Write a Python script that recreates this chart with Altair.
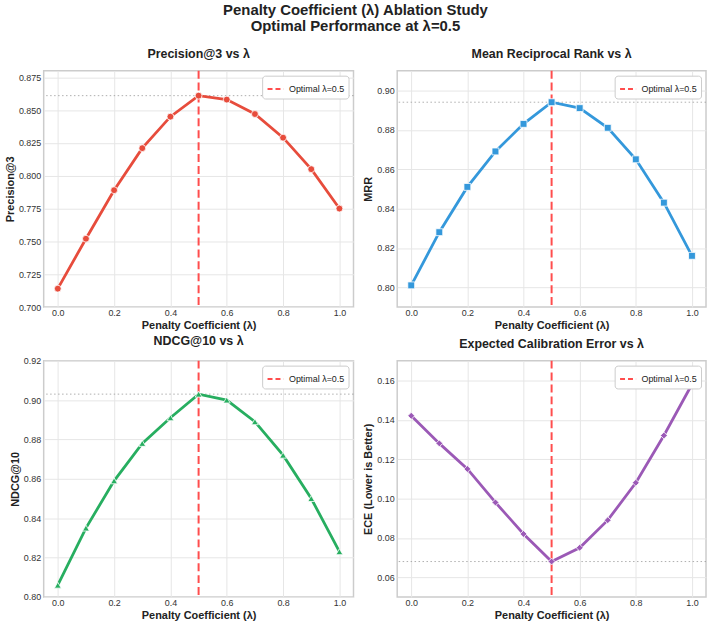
import altair as alt
import pandas as pd

FONT = "Liberation Sans"

# ---------------- data ----------------
lam = [0.0, 0.1, 0.2, 0.3, 0.4, 0.5, 0.6, 0.7, 0.8, 0.9, 1.0]
precision3 = [0.714, 0.752, 0.789, 0.821, 0.845, 0.861, 0.858, 0.847, 0.829, 0.805, 0.775]
mrr = [0.801, 0.828, 0.851, 0.869, 0.883, 0.894, 0.891, 0.881, 0.865, 0.843, 0.816]
ndcg10 = [0.806, 0.835, 0.859, 0.878, 0.891, 0.903, 0.900, 0.889, 0.872, 0.850, 0.823]
ece = [0.142, 0.128, 0.115, 0.098, 0.082, 0.068, 0.075, 0.089, 0.108, 0.132, 0.158]

opt_lambda = 0.5
legend_label = "Optimal λ=0.5"

x_ticks = [0.0, 0.2, 0.4, 0.6, 0.8, 1.0]
p3_ticks = [0.700, 0.725, 0.750, 0.775, 0.800, 0.825, 0.850, 0.875]
mrr_ticks = [0.80, 0.82, 0.84, 0.86, 0.88, 0.90]
ndcg_ticks = [0.80, 0.82, 0.84, 0.86, 0.88, 0.90, 0.92]
ece_ticks = [0.06, 0.08, 0.10, 0.12, 0.14, 0.16]

main_title = ["Penalty Coefficient (λ) Ablation Study", "Optimal Performance at λ=0.5"]
x_title = "Penalty Coefficient (λ)"


def panel(values, title, ytitle, color, shape, ydomain, yticks, yfmt, opt_value, w, h):
    df = pd.DataFrame({"lam": lam, "val": values})
    xenc = alt.X(
        "lam:Q",
        scale=alt.Scale(domain=[-0.05, 1.05], nice=False, zero=False),
        axis=alt.Axis(values=x_ticks, tickCount=len(x_ticks) + 10, format=".1f",
                      title=x_title, labelFlush=False, labelOverlap=False),
    )
    yenc = alt.Y(
        "val:Q",
        scale=alt.Scale(domain=ydomain, nice=False, zero=False),
        axis=alt.Axis(values=yticks, tickCount=len(yticks) + 10, format=yfmt,
                      title=ytitle, labelFlush=False, labelOverlap=False),
    )
    hline = (
        alt.Chart(pd.DataFrame({"val": [opt_value]}))
        .mark_rule(color="#9a9a9a", strokeDash=[1.5, 2.5], strokeWidth=1, opacity=0.8)
        .encode(y=alt.Y("val:Q"))
    )
    vline = (
        alt.Chart(pd.DataFrame({"lam": [opt_lambda], "label": [legend_label]}))
        .mark_rule(strokeDash=[8, 4], strokeWidth=2)
        .encode(
            x=alt.X("lam:Q"),
            color=alt.Color(
                "label:N",
                scale=alt.Scale(range=["#ff4d4d"]),
                legend=alt.Legend(
                    title=None,
                    orient="top-right",
                    offset=5,
                    symbolType="stroke",
                    symbolStrokeWidth=2,
                    symbolDash=[5, 3],
                    symbolSize=260,
                    labelFontSize=9,
                    labelFont=FONT,
                    labelColor="#222",
                    fillColor="white",
                    strokeColor="#cccccc",
                    cornerRadius=3,
                    padding=4,
                ),
            ),
        )
    )
    line = (
        alt.Chart(df)
        .mark_line(color=color, strokeWidth=2.8)
        .encode(x=xenc, y=yenc)
    )
    pts = (
        alt.Chart(df)
        .mark_point(shape=shape, filled=True, fill=color, stroke="white",
                    strokeWidth=0.8, size=48, opacity=1)
        .encode(x=alt.X("lam:Q"), y=alt.Y("val:Q"))
    )
    return alt.layer(hline, vline, line, pts).properties(
        width=w,
        height=h,
        title=alt.TitleParams(title, fontSize=12.5, fontWeight="bold", font=FONT,
                              color="#222", offset=9, anchor="middle"),
    )


p1 = panel(precision3, "Precision@3 vs λ", "Precision@3", "#e74c3c", "circle",
           [0.70, 0.88], p3_ticks, ".3f", precision3[5], 312, 238)
p2 = panel(mrr, "Mean Reciprocal Rank vs λ", "MRR", "#3498db", "square",
           [0.79, 0.91], mrr_ticks, ".2f", mrr[5], 311, 238)
p3 = panel(ndcg10, "NDCG@10 vs λ", "NDCG@10", "#27ae60", "triangle-up",
           [0.80, 0.92], ndcg_ticks, ".2f", ndcg10[5], 312, 238)
p4 = panel(ece, "Expected Calibration Error vs λ", "ECE (Lower is Better)", "#9b59b6", "diamond",
           [0.05, 0.17], ece_ticks, ".2f", ece[5], 311, 238)

chart = (
    alt.concat(p1, p2, p3, p4, columns=2, spacing=alt.RowColnumber(row=2, column=6))
    .resolve_scale(color="independent")
    .resolve_legend(color="independent")
    .properties(
        title=alt.TitleParams(main_title, fontSize=15, fontWeight="bold", font=FONT,
                              color="#222", anchor="middle", offset=14, lineHeight=16),
        padding={"left": 3, "right": 0, "top": 0, "bottom": 0},
        background="white",
    )
    .configure_view(stroke="#cccccc", strokeWidth=1.5)
    .configure_axis(
        labelFont=FONT, labelFontSize=9, labelColor="#333333", labelPadding=3,
        titleFont=FONT, titleFontSize=11, titleFontWeight="bold", titleColor="#222222",
        titlePadding=3, grid=True, gridColor="#e6e6e6", gridWidth=1,
        domain=False, ticks=False,
    )
    .configure_axisX(labelPadding=2, titlePadding=2)
)

chart.save("out.html", embed_options={"renderer": "svg", "actions": False})
